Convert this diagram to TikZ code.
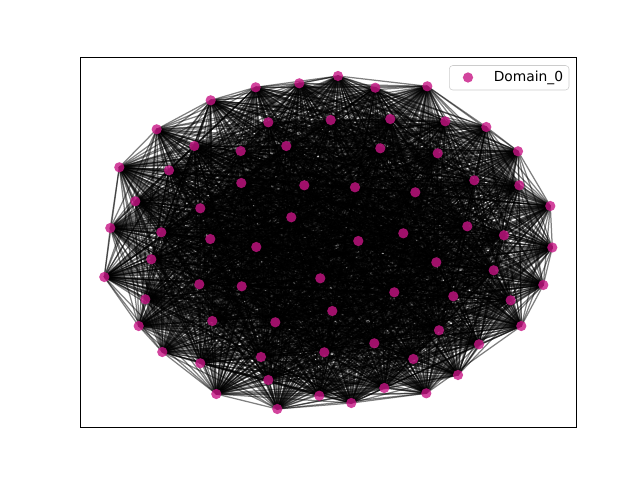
\documentclass[tikz,border=0pt]{standalone}
\usepackage{fontspec}
\setmainfont{DejaVu Sans}
\definecolor{domain}{HTML}{C71585}
\definecolor{legendgray}{HTML}{CCCCCC}
\pgfdeclarelayer{edges}
\pgfsetlayers{edges,main}

\begin{document}
\begin{tikzpicture}
	[x=0.0254cm, y=-0.0254cm,
	block/.style ={circle, fill=domain, fill opacity=0.8, inner sep=0pt, minimum size=7.4pt},
	link/.style ={black, opacity=0.5, line width=0.9pt}]
	\useasboundingbox (0,0) rectangle (640,480);
	% axes frame
	\draw[line width=0.7pt] (80,57.6) rectangle (576,427.2);
	% nodes
	\node[block] (n1) at (255.7,87.3) {};
	\node[block] (n2) at (299.3,83.3) {};
	\node[block] (n3) at (338,76) {};
	\node[block] (n4) at (210.7,100.3) {};
	\node[block] (n5) at (156.7,129.3) {};
	\node[block] (n6) at (119.3,167.3) {};
	\node[block] (n7) at (135.3,201.3) {};
	\node[block] (n8) at (110.3,228) {};
	\node[block] (n9) at (268.3,122.3) {};
	\node[block] (n10) at (330.7,120) {};
	\node[block] (n11) at (194.3,146) {};
	\node[block] (n12) at (240.7,151) {};
	\node[block] (n13) at (286.3,146) {};
	\node[block] (n14) at (169,170.3) {};
	\node[block] (n15) at (241.3,183) {};
	\node[block] (n16) at (304.3,185.3) {};
	\node[block] (n17) at (200.3,208.3) {};
	\node[block] (n18) at (291.3,217.3) {};
	\node[block] (n19) at (161.3,232.3) {};
	\node[block] (n20) at (210.3,239) {};
	\node[block] (n21) at (256.3,247) {};
	\node[block] (n22) at (375.3,87.7) {};
	\node[block] (n23) at (427.3,86.3) {};
	\node[block] (n24) at (390.3,119) {};
	\node[block] (n25) at (445.3,121.3) {};
	\node[block] (n26) at (486.3,127) {};
	\node[block] (n27) at (518,151.3) {};
	\node[block] (n28) at (380.3,148.3) {};
	\node[block] (n29) at (437.7,153.3) {};
	\node[block] (n30) at (519.3,185.3) {};
	\node[block] (n31) at (355,187.3) {};
	\node[block] (n32) at (415.3,192.3) {};
	\node[block] (n33) at (474.3,180.3) {};
	\node[block] (n34) at (550.3,206) {};
	\node[block] (n35) at (467.3,226.3) {};
	\node[block] (n36) at (504,235.3) {};
	\node[block] (n37) at (403.3,233.3) {};
	\node[block] (n38) at (358.3,241) {};
	\node[block] (n39) at (552.3,247.5) {};
	\node[block] (n40) at (151.3,259.3) {};
	\node[block] (n41) at (104.3,277) {};
	\node[block] (n42) at (199.3,284.3) {};
	\node[block] (n43) at (241.7,286.3) {};
	\node[block] (n44) at (320.3,278.3) {};
	\node[block] (n45) at (145.3,299.3) {};
	\node[block] (n46) at (212.3,321) {};
	\node[block] (n47) at (275.3,322.3) {};
	\node[block] (n48) at (332.3,311) {};
	\node[block] (n49) at (138.7,326) {};
	\node[block] (n50) at (324.3,352.3) {};
	\node[block] (n51) at (162.3,352) {};
	\node[block] (n52) at (200.3,363.3) {};
	\node[block] (n53) at (261,357) {};
	\node[block] (n54) at (268.3,380) {};
	\node[block] (n55) at (216.3,394) {};
	\node[block] (n56) at (277.3,409) {};
	\node[block] (n57) at (319.3,395.7) {};
	\node[block] (n58) at (436.3,262.3) {};
	\node[block] (n59) at (493.7,270.3) {};
	\node[block] (n60) at (543.3,285) {};
	\node[block] (n61) at (394.3,292.3) {};
	\node[block] (n62) at (453.3,296.3) {};
	\node[block] (n63) at (510.7,300.3) {};
	\node[block] (n64) at (521.3,326) {};
	\node[block] (n65) at (439,330.3) {};
	\node[block] (n66) at (374.3,343.3) {};
	\node[block] (n67) at (479,344.3) {};
	\node[block] (n68) at (413.3,359) {};
	\node[block] (n69) at (458,375) {};
	\node[block] (n70) at (384.3,388) {};
	\node[block] (n71) at (426.3,393.3) {};
	\node[block] (n72) at (351.3,403) {};
	% edges, behind the nodes
	\pgfmathsetseed{4242}
	\begin{pgfonlayer}{edges}
		\foreach \i in {1,...,71}{
			\pgfmathtruncatemacro{\first}{\i+1}
			\foreach \j in {\first,...,72}{
				\pgfmathtruncatemacro{\keep}{rnd<0.9 ? 1 : 0}
				\ifnum\keep=1 \draw[link] (n\i.center) -- (n\j.center); \fi
			}
		}
	\end{pgfonlayer}
	% legend
	\draw[legendgray, fill=white, fill opacity=0.8, rounded corners=2.5pt] (449.3,65.5) rectangle (569,90);
	\node[block] (key) at (468,77.5) {};
	\node[anchor=west, inner sep=0pt, font=\fontsize{10}{12}\selectfont] (keytext) at (493.5,77.5) {Domain\_0};
\end{tikzpicture}
\end{document}
